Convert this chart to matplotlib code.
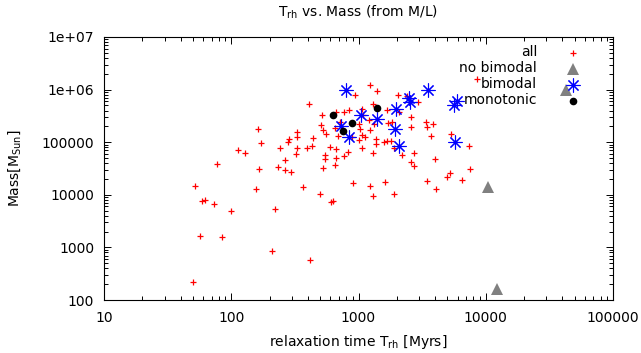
import matplotlib
matplotlib.use('Agg')
import matplotlib.pyplot as pyplot
import matplotlib.ticker as ticker

# relaxation time [Myr] and mass [M_sun] for every cluster
trh_all = [411, 163, 172, 114, 129, 76.9, 331, 328, 283, 281, 243, 327, 396, 438, 434,
           518, 508, 525, 555, 598, 671, 543, 547, 671, 656, 766, 830, 1062, 1368, 1306,
           1574, 1683, 1897, 947, 1221, 1403, 1289, 1056, 769, 849, 671, 1089, 1210, 1313,
           650, 687, 1005, 1028, 1069, 1115, 1000, 892, 1242, 1378, 1786, 1683, 1702, 2047,
           2076, 2388, 2943, 2600, 2600, 3373, 3430, 3873, 3690, 5300, 7350, 1842, 8490,
           2181, 2725, 2600, 2746, 3966, 3430, 4063, 5210, 4960, 6560, 7520, 902, 1242,
           1306, 1611, 1897, 613, 628, 496, 369, 530, 293, 266, 266, 232, 164, 51.8, 156,
           59.1, 62.4, 73.5, 98.7, 222, 57.0, 83.9, 208, 414, 49.6, 321, 718]
mass_all = [532000, 178000, 98600, 71100, 63700, 38500, 158000, 127000, 115000, 98700,
            77600, 77600, 76600, 119000, 86500, 329000, 212000, 171000, 143000, 81100,
            72700, 57800, 48600, 50100, 37300, 54700, 64300, 77600, 92400, 62300, 101000,
            105000, 78600, 789000, 1208000, 953000, 532000, 428000, 367000, 401000, 375000,
            329000, 259000, 222000, 189000, 131000, 219000, 178000, 137000, 126000, 110000,
            127000, 171000, 117000, 105000, 409000, 227000, 789000, 375000, 755000, 589000,
            305000, 192000, 245000, 195000, 219000, 131000, 143000, 84700, 245000, 1591000,
            57100, 63100, 42000, 34800, 48000, 18500, 12900, 26300, 21500, 19400, 31300,
            16800, 14700, 9610, 17700, 10400, 7300, 7520, 10400, 13900, 32700, 26800, 29200,
            45900, 34500, 30300, 14500, 13100, 7620, 7860, 6680, 4990, 5260, 1670, 1580, 865,
            575, 223, 60400, 245000]

# clusters without a bimodal distribution
trh_nobimodal = [10370, 12200, 42700]
mass_nobimodal = [13900, 164, 1004000]

# bimodal clusters
trh_bimodal = [791, 1042, 1399, 1955, 728, 849, 1932, 2065, 2500, 2545, 3508, 5970, 5670, 5700]
mass_bimodal = [970000, 322000, 282000, 433000, 205000, 124000, 178000, 85400, 701000,
                581000, 996000, 594000, 499000, 101000]

# monotonic clusters
trh_monotonic = [628, 1401, 884, 755]
mass_monotonic = [329000, 447000, 232000, 160000]

xticks = [10, 100, 1000, 10000, 100000]
xticklabels = ['10', '100', '1000', '10000', '100000']
yticks = [100, 1000, 10000, 100000, 1e6, 1e7]
yticklabels = ['100', '1000', '10000', '100000', '1e+06', '1e+07']

pyplot.rcParams.update({'font.size': 10, 'font.family': 'DejaVu Sans',
                        'mathtext.default': 'regular'})

fig = pyplot.figure(figsize=(6.41, 3.53), dpi=100)
ax = fig.add_axes([104 / 641, 1 - 300 / 353, 509 / 641, 263 / 353])

# point styles, reused for the key
style_all = dict(marker='+', ms=5, mew=0.9, color='#ff0000')
style_nobimodal = dict(marker='^', ms=9, mew=0, color='#808080')
style_bimodal = dict(marker=(8, 2, 0), ms=10, mew=0.8, color='#0000ff')
style_monotonic = dict(marker='o', ms=5.5, mew=0, color='black')

ax.plot(trh_all, mass_all, ls='none', **style_all)
ax.plot(trh_nobimodal, mass_nobimodal, ls='none', **style_nobimodal)
ax.plot(trh_bimodal, mass_bimodal, ls='none', **style_bimodal)
ax.plot(trh_monotonic, mass_monotonic, ls='none', **style_monotonic)

ax.set_xscale('log')
ax.set_yscale('log')
ax.set_xlim(10, 100000)
ax.set_ylim(100, 1e7)

ax.xaxis.set_major_locator(ticker.FixedLocator(xticks))
ax.xaxis.set_major_formatter(ticker.FixedFormatter(xticklabels))
ax.yaxis.set_major_locator(ticker.FixedLocator(yticks))
ax.yaxis.set_major_formatter(ticker.FixedFormatter(yticklabels))
ax.xaxis.set_minor_locator(ticker.LogLocator(base=10, subs=range(2, 10), numticks=20))
ax.yaxis.set_minor_locator(ticker.LogLocator(base=10, subs=range(2, 10), numticks=20))
ax.xaxis.set_minor_formatter(ticker.NullFormatter())
ax.yaxis.set_minor_formatter(ticker.NullFormatter())
ax.tick_params(which='both', direction='in', top=True, right=True, width=0.7)
ax.tick_params(which='major', length=5)
ax.tick_params(which='minor', length=3)
ax.tick_params(axis='x', which='major', pad=8)
ax.tick_params(axis='y', which='major', pad=7)
for spine in ax.spines.values():
	spine.set_linewidth(0.8)

# labels
fig.text(358 / 641, 1 - 12 / 353, r'T$_{rh}$ vs. Mass (from M/L)', ha='center', va='center')
ax.set_xlabel(r'relaxation time T$_{rh}$ [Myrs]', va='center')
ax.xaxis.set_label_coords(0.5, -42 / 263)
ax.set_ylabel(r'Mass[M$_{Sun}$]', va='center')
ax.yaxis.set_label_coords(-89 / 509, 0.5)

# key, text right aligned with the sample to its right
key = [('all', style_all), ('no bimodal', style_nobimodal),
       ('bimodal', style_bimodal), ('monotonic', style_monotonic)]
for i, (label, style) in enumerate(key):
	y = (300 - 52.5 - 16 * i) / 263
	ax.text(0.851, y, label, ha='right', va='center', transform=ax.transAxes)
	ax.plot([0.921], [y], ls='none', transform=ax.transAxes, clip_on=False, **style)

fig.savefig('out.png', dpi=100)
